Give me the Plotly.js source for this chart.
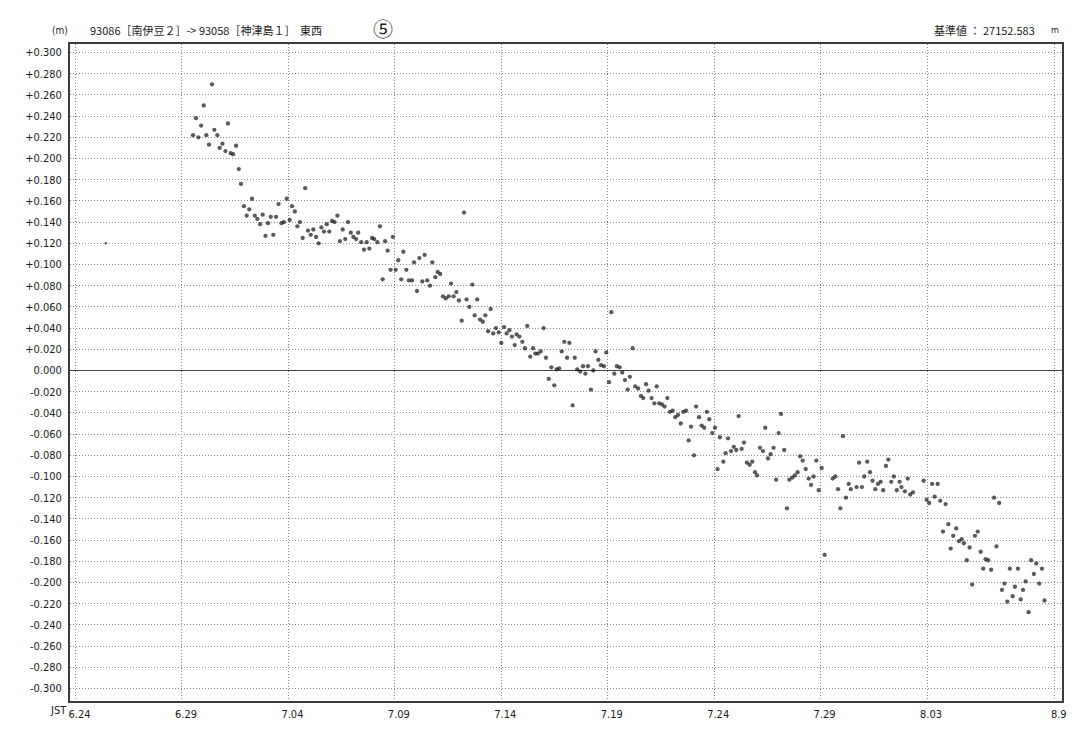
<!DOCTYPE html>
<html><head><meta charset="utf-8">
<script src="https://cdn.plot.ly/plotly-3.0.1.min.js"></script>
<style>html,body{margin:0;padding:0;background:#fff}#chart{width:1086px;height:741px}</style>
</head><body><div id="chart"></div>
<script>
// days elapsed since JST 6.24 00:00 (2000)
const days = [1.42,
5.52,5.66,5.77,5.90,6.02,6.14,6.27,6.41,6.52,6.66,6.77,6.90,7.04,7.16,7.29,7.40,7.54,7.67,7.77,7.91,
8.04,8.16,8.29,8.42,8.54,8.67,8.79,8.92,9.04,9.17,9.29,9.42,9.54,9.67,9.79,9.92,10.06,10.17,10.30,10.42,
10.54,10.67,10.79,10.92,11.05,11.17,11.30,11.42,
11.55,11.67,11.80,11.92,12.05,12.17,12.30,12.42,12.55,12.67,12.80,12.93,13.05,13.18,13.28,13.42,13.55,13.68,13.80,13.93,
14.03,14.18,14.30,14.43,14.54,14.66,14.80,14.91,15.04,15.16,15.30,15.40,15.54,15.66,15.81,15.90,16.04,16.15,16.29,16.40,
16.52,16.65,16.76,16.90,17.01,17.13,17.26,17.39,17.53,17.64,17.76,17.89,18.01,18.14,18.25,18.37,18.50,18.64,18.75,18.87,
19.00,19.13,19.25,19.38,19.50,19.62,19.75,19.88,20.00,20.13,20.25,20.38,20.50,20.63,20.72,20.85,
20.99,21.11,21.22,21.36,21.49,21.60,21.72,21.85,21.99,22.10,22.23,22.35,22.49,22.60,22.72,22.84,22.96,23.09,23.20,23.35,
23.45,23.57,23.71,23.84,23.95,24.07,24.21,24.32,24.43,24.56,24.68,24.82,24.93,25.06,25.17,25.31,25.43,25.56,25.68,25.81,
25.94,26.04,26.17,26.29,26.43,26.56,26.67,26.80,26.92,27.06,27.19,27.30,27.42,27.55,27.67,
27.80,27.92,28.05,28.17,28.30,28.43,28.55,28.68,28.80,28.91,29.05,29.15,29.29,29.41,29.53,29.66,29.77,29.91,30.04,30.16,
30.27,30.43,30.54,30.65,30.79,30.92,31.04,31.15,31.29,31.40,31.54,31.67,31.79,31.92,32.02,32.15,32.29,32.40,32.53,32.65,
32.79,32.91,33.03,33.14,33.29,33.42,33.53,33.67,33.79,33.92,34.04,34.16,34.30,34.44,
34.55,34.67,34.80,34.91,35.05,35.19,35.57,35.69,35.82,35.93,36.05,36.19,36.32,36.42,36.69,36.81,36.94,37.05,37.19,37.32,
37.44,37.57,37.69,37.82,37.94,38.07,38.18,38.32,38.44,38.58,38.71,38.80,38.96,39.09,39.21,39.34,39.84,39.98,40.10,40.24,
40.36,40.50,40.62,40.75,40.87,41.00,41.11,41.23,
41.37,41.50,41.63,41.73,41.87,42.00,42.12,42.25,42.38,42.52,42.64,42.75,42.87,43.01,43.15,43.26,43.39,43.52,43.64,43.77,
43.89,44.02,44.13,44.27,44.40,44.51,44.63,44.77,44.89,45.02,45.13,45.27,45.40,45.52];

// east-west baseline change (m) relative to reference 27152.583 m
const values = [0.120,
0.222,0.238,0.220,0.231,0.250,0.222,0.213,0.270,0.227,0.222,0.210,0.214,0.207,0.233,0.205,0.204,0.212,0.190,0.176,0.155,
0.146,0.152,0.162,0.146,0.143,0.138,0.147,0.127,0.139,0.145,0.128,0.145,0.157,0.139,0.140,0.162,0.142,0.155,0.150,0.136,
0.140,0.125,0.172,0.132,0.128,0.133,0.126,0.120,
0.135,0.131,0.138,0.131,0.141,0.140,0.146,0.122,0.133,0.124,0.140,0.130,0.126,0.124,0.130,0.121,0.114,0.121,0.115,0.125,
0.124,0.121,0.136,0.086,0.122,0.113,0.095,0.126,0.095,0.104,0.086,0.112,0.095,0.085,0.085,0.102,0.075,0.106,0.084,0.109,
0.085,0.080,0.102,0.088,0.093,0.091,0.070,0.068,0.070,0.082,0.070,0.074,0.066,0.047,0.149,0.067,0.060,0.081,0.052,0.067,
0.048,0.046,0.052,0.037,0.058,0.035,0.040,0.036,0.026,0.041,0.035,0.038,0.032,0.024,0.034,0.032,
0.027,0.021,0.042,0.013,0.021,0.016,0.016,0.018,0.040,0.012,-0.008,0.003,-0.014,0.001,0.002,0.018,0.027,0.012,0.026,-0.033,
0.012,0.001,-0.001,0.004,-0.003,0.004,-0.018,0.000,0.018,0.010,0.005,0.004,0.017,-0.011,0.055,-0.003,0.004,0.003,-0.002,-0.009,
-0.018,-0.006,0.021,-0.015,-0.017,-0.024,-0.026,-0.013,-0.019,-0.026,-0.031,-0.015,-0.031,-0.032,-0.034,
-0.026,-0.039,-0.038,-0.044,-0.042,-0.050,-0.039,-0.038,-0.066,-0.053,-0.080,-0.034,-0.044,-0.052,-0.054,-0.039,-0.046,-0.059,-0.054,-0.093,
-0.063,-0.086,-0.078,-0.064,-0.076,-0.072,-0.075,-0.043,-0.074,-0.068,-0.087,-0.089,-0.086,-0.096,-0.099,-0.073,-0.076,-0.054,-0.083,-0.079,
-0.073,-0.103,-0.059,-0.041,-0.075,-0.130,-0.103,-0.101,-0.099,-0.096,-0.081,-0.085,-0.093,-0.102,
-0.108,-0.100,-0.085,-0.113,-0.092,-0.174,-0.102,-0.100,-0.112,-0.130,-0.062,-0.120,-0.107,-0.112,-0.110,-0.087,-0.110,-0.100,-0.086,-0.096,
-0.104,-0.112,-0.107,-0.105,-0.113,-0.090,-0.084,-0.105,-0.100,-0.113,-0.105,-0.110,-0.114,-0.102,-0.117,-0.115,-0.104,-0.122,-0.125,-0.107,
-0.119,-0.107,-0.123,-0.152,-0.126,-0.145,-0.168,-0.156,
-0.149,-0.161,-0.159,-0.163,-0.179,-0.167,-0.202,-0.156,-0.152,-0.171,-0.187,-0.178,-0.179,-0.188,-0.120,-0.166,-0.125,-0.207,-0.201,-0.218,
-0.187,-0.213,-0.204,-0.187,-0.216,-0.207,-0.199,-0.228,-0.179,-0.192,-0.182,-0.201,-0.187,-0.217];

const xTickDays = [0,5,10,15,20,25,30,35,40,46];
const xTickLabels = ['6.24','6.29','7.04','7.09','7.14','7.19','7.24','7.29','8.03','8.9'];
const yTickVals = [0.30,0.28,0.26,0.24,0.22,0.20,0.18,0.16,0.14,0.12,0.10,0.08,0.06,0.04,0.02,0,
  -0.02,-0.04,-0.06,-0.08,-0.10,-0.12,-0.14,-0.16,-0.18,-0.20,-0.22,-0.24,-0.26,-0.28,-0.30];
const yTickLabels = ['+0.300','+0.280','+0.260','+0.240','+0.220','+0.200','+0.180','+0.160','+0.140','+0.120','+0.100',
  '+0.080','+0.060','+0.040','+0.020','0.000','-0.020','-0.040','-0.060','-0.080','-0.100','-0.120','-0.140','-0.160',
  '-0.180','-0.200','-0.220','-0.240','-0.260','-0.280','-0.300'];

const tickFont = '"Liberation Sans Narrow","DejaVu Sans Condensed","Noto Sans CJK JP",sans-serif';
const cjkFont = '"Noto Sans CJK JP","Noto Sans CJK SC",sans-serif';

const trace = {
  x: days, y: values, type: 'scatter', mode: 'markers', hoverinfo: 'x+y',
  marker: {color: '#141414', size: days.map(d => d < 3 ? 2.4 : 4.3), line: {width: 0}}
};

function ann(text, x, y, opts) {
  return Object.assign({text: text, x: x, y: y, xref: 'paper', yref: 'paper', showarrow: false,
    xanchor: 'left', yanchor: 'middle', font: {family: cjkFont, size: 11, color: '#1a1a1a'}}, opts || {});
}

const layout = {
  width: 1086, height: 741,
  margin: {l: 70, r: 24, t: 44, b: 40},
  paper_bgcolor: '#ffffff', plot_bgcolor: '#ffffff', showlegend: false,
  xaxis: {
    range: [-0.26, 46.34], tickmode: 'array', tickvals: xTickDays, ticktext: xTickLabels,
    showgrid: true, gridcolor: '#8a8a8a', griddash: '1px,2px', gridwidth: 1,
    showline: true, mirror: true, linecolor: '#3c3c3c', linewidth: 2,
    ticks: '', zeroline: false, ticklabelshift: 4, ticklabelstandoff: 2,
    tickfont: {family: tickFont, size: 11, color: '#1a1a1a'}, fixedrange: true
  },
  yaxis: {
    range: [-0.3118, 0.308], tickmode: 'array', tickvals: yTickVals, ticktext: yTickLabels,
    showgrid: true, gridcolor: '#8a8a8a', griddash: '1px,2px', gridwidth: 1,
    showline: true, mirror: true, linecolor: '#3c3c3c', linewidth: 2,
    zeroline: true, zerolinecolor: '#444444', zerolinewidth: 1.5,
    ticks: '', ticklabelstandoff: 4,
    tickfont: {family: tickFont, size: 11, color: '#1a1a1a'}, fixedrange: true
  },
  annotations: [
    ann('(m)', -0.0202, 1.0213, {font: {family: tickFont, size: 10, color: '#1a1a1a'}}),
    ann('93086［南伊豆２］-> 93058［神津島１］', 0.0181, 1.0213),
    ann('東西', 0.2298, 1.0213),
    ann('⑤', 0.3155, 1.0235, {xanchor: 'center', font: {family: cjkFont, size: 20, color: '#1a1a1a'}}),
    ann('基準値 ： 27152.583', 0.869, 1.0213),
    ann('m', 0.993, 1.0213, {xanchor: 'center', font: {family: tickFont, size: 9, color: '#1a1a1a'}}),
    ann('JST', -0.001, -0.0152, {xanchor: 'right', font: {family: tickFont, size: 11, color: '#1a1a1a'}})
  ]
};

Plotly.newPlot('chart', [trace], layout, {displayModeBar: false, staticPlot: true});
</script>
</body></html>
